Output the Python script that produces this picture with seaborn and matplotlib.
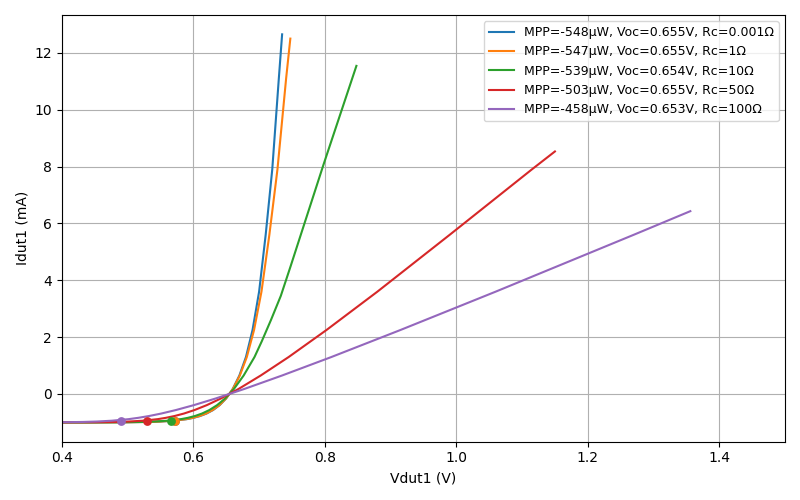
import matplotlib
matplotlib.use('Agg')
import matplotlib.pyplot as plt
import pandas as pd
import seaborn as sns

# current values (mA), shared by the sweeps below the knee
i_base = [-1.0, -1.0, -0.999, -0.994, -0.985, -0.97, -0.941, -0.886, -0.84, -0.777,
          -0.689, -0.565, -0.393, -0.154, 0.18, 0.65, 1.30, 2.25, 3.6, 5.6, 7.9, 11.1]

v_rc0 = [0.30, 0.40, 0.45, 0.50, 0.53, 0.55, 0.57, 0.59, 0.60, 0.61, 0.62, 0.63,
         0.64, 0.65, 0.66, 0.67, 0.68, 0.69, 0.70, 0.71, 0.72, 0.73, 0.735]
i_rc0 = i_base + [12.65]

v_rc1 = [0.299, 0.399, 0.449, 0.499, 0.529, 0.549, 0.569, 0.589, 0.599, 0.6092, 0.6193,
         0.6294, 0.6396, 0.6498, 0.6602, 0.6707, 0.6813, 0.6923, 0.7036, 0.7156, 0.7279,
         0.7411, 0.7475]
i_rc1 = i_base + [12.5]

v_rc10 = [0.29, 0.39, 0.44, 0.490, 0.520, 0.540, 0.5606, 0.5811, 0.5916, 0.6022, 0.6131,
          0.6244, 0.6361, 0.6485, 0.6618, 0.6765, 0.693, 0.704, 0.718, 0.733, 0.7476,
          0.798, 0.848]
i_rc10 = i_base[:17] + [1.85, 2.6, 3.45, 4.47, 8.07, 11.54]

v_rc50 = [0.25, 0.35, 0.40, 0.4503, 0.4808, 0.5015, 0.5230, 0.5457, 0.558, 0.5712, 0.5856,
          0.6018, 0.6204, 0.6423, 0.669, 0.7025, 0.745, 0.8025, 0.88, 0.99, 1.115, 1.15]
i_rc50 = i_base[:21] + [8.53]

v_rc100 = [0.20, 0.30, 0.350, 0.4006, 0.4315, 0.453, 0.4759, 0.5014, 0.516, 0.5323, 0.5511,
           0.5735, 0.6007, 0.6346, 0.678, 0.735, 0.81, 0.915, 1.06, 1.27, 1.356]
i_rc100 = i_base[:20] + [6.43]

labels = ['MPP=-548µW, Voc=0.655V, Rc=0.001Ω',
          'MPP=-547µW, Voc=0.655V, Rc=1Ω',
          'MPP=-539µW, Voc=0.654V, Rc=10Ω',
          'MPP=-503µW, Voc=0.655V, Rc=50Ω',
          'MPP=-458µW, Voc=0.653V, Rc=100Ω']

# maximum power points
mpp_v = [0.572, 0.572, 0.566, 0.530, 0.490]
mpp_i = [-0.958, -0.956, -0.952, -0.949, -0.935]

curves = [(v_rc0, i_rc0), (v_rc1, i_rc1), (v_rc10, i_rc10), (v_rc50, i_rc50), (v_rc100, i_rc100)]
colors = sns.color_palette('tab10', 5)

fig, ax = plt.subplots(figsize=(8, 5), dpi=100)
for k, (v, i) in enumerate(curves):
    df = pd.DataFrame({'V': v, 'I': i})
    sns.lineplot(data=df, x='V', y='I', ax=ax, color=colors[k], label=labels[k],
                 estimator=None, sort=False, linewidth=1.5)
for k in range(5):
    sns.scatterplot(x=[mpp_v[k]], y=[mpp_i[k]], ax=ax, color=colors[k], s=40,
                    linewidth=0, zorder=3)

ax.set_xlim(0.4, 1.5)
ax.set_ylim(-1.68, 13.33)
ax.set_xlabel('Vdut1 (V)')
ax.set_ylabel('Idut1 (mA)')
ax.grid(True)
ax.legend(loc='upper right', fontsize=9)
plt.tight_layout()
plt.savefig('out.png', dpi=100)
